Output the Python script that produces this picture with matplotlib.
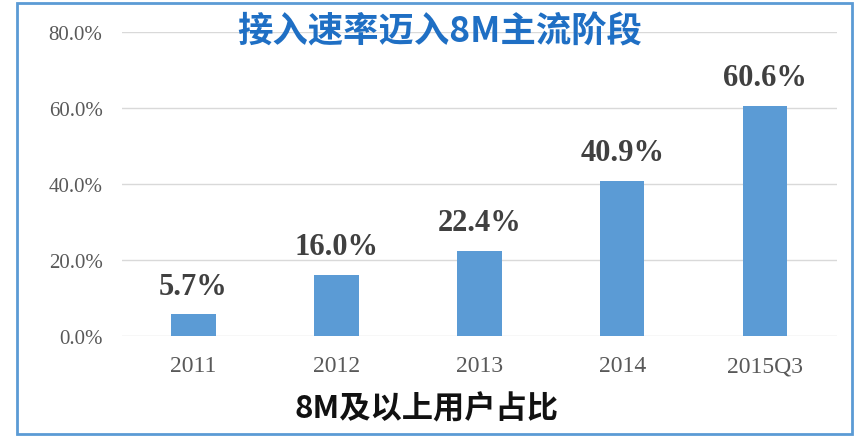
import matplotlib
matplotlib.use('Agg')

import matplotlib.pyplot as plt
from matplotlib.patches import Rectangle

# Data
categories = ['2011', '2012', '2013', '2014', '2015Q3']
share = [5.7, 16.0, 22.4, 40.9, 60.6]   # percent of users with 8M+ access
y_ticks = [0, 20, 40, 60, 80]

title = '接入速率迈入8M主流阶段'
xlabel = '8M及以上用户占比'

cjk = ['Noto Sans CJK SC', 'DejaVu Sans']
serif = ['Liberation Serif', 'DejaVu Serif']

fig = plt.figure(figsize=(8.56, 4.39), dpi=100)
ax = fig.add_axes([0.1425, 0.2323, 0.835, 0.6925])

x = range(len(categories))
bars = ax.bar(x, share, width=0.31, color='#5b9bd5', zorder=3)

ax.set_xlim(-0.5, len(categories) - 0.5)
ax.set_ylim(0, 80)
ax.set_yticks(y_ticks)
ax.set_yticklabels([f'{v:.1f}%' for v in y_ticks], family=serif, fontsize=15, color='#595959')
ax.set_xticks(list(x))
ax.set_xticklabels(categories, family=serif, fontsize=17, color='#595959')
ax.tick_params(axis='y', length=0, pad=14)
ax.tick_params(axis='x', length=0, pad=14)

ax.grid(axis='y', color='#d9d9d9', linewidth=1, zorder=0)
for s in ax.spines.values():
    s.set_visible(False)

# value labels above bars
for b, v in zip(bars, share):
    ax.annotate(f'{v:.1f}%', (b.get_x() + b.get_width() / 2, v),
                xytext=(0, 15), textcoords='offset points',
                ha='center', va='baseline', family=serif, fontsize=22,
                fontweight='bold', color='#404040')

fig.text(0.514, 0.927, title, ha='center', va='center', family=cjk,
         fontsize=25.5, fontweight='bold', color='#1f6fc4')
fig.text(0.498, 0.068, xlabel, ha='center', va='center', family=cjk,
         fontsize=22.5, fontweight='bold', color='#111111')

# light blue frame around the picture
fig.patches.append(Rectangle((17 / 856, 4 / 439), 835 / 856, 431 / 439,
                             transform=fig.transFigure, fill=False,
                             edgecolor='#5b9bd5', linewidth=2))

fig.savefig('out.png', dpi=100)
